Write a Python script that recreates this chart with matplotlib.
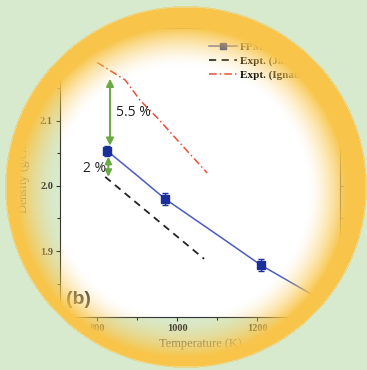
import numpy as np
import matplotlib
matplotlib.use("Agg")
import matplotlib.pyplot as plt
from matplotlib.lines import Line2D

# --- data ---
fpmd_T = [825, 970, 1210]
fpmd_rho = [2.054, 1.980, 1.878]
fpmd_err = [0.008, 0.009, 0.009]

fit_T = [825, 900, 970, 1100, 1210, 1340, 1420]
fit_rho = [2.054, 2.016, 1.980, 1.925, 1.878, 1.832, 1.806]

janz_T = [820, 1067]
janz_rho = [2.014, 1.888]

ign_T = [800, 870, 907, 950, 1007, 1075]
ign_rho = [2.190, 2.163, 2.132, 2.105, 2.066, 2.020]

legend_labels = ["FPMD", "Expt. (Janz)", "Expt. (Ignatiev)"]

W, H = 367, 370
BG = "#d8eacd"
YELLOW = np.array([248, 197, 74]) / 255.0

fig = plt.figure(figsize=(W / 100, H / 100), dpi=100)
fig.patch.set_facecolor(BG)

# --- the chart ---
ax = fig.add_axes([60 / W, 1 - 317 / H, 280 / W, 289 / H])
ax.set_facecolor("white")
ax.set_xlim(707, 1407)
ax.set_ylim(1.7985, 2.243)

ax.plot(fit_T, fit_rho, color="#4a5cc4", lw=1.1, zorder=3)
ax.errorbar(fpmd_T, fpmd_rho, yerr=fpmd_err, fmt="s", color="#1a2f9c",
            ms=6, capsize=2.5, elinewidth=1, zorder=4)
ax.plot(janz_T, janz_rho, color="#222222", lw=1.3, ls=(0, (4, 3)), zorder=3)
ax.plot(ign_T, ign_rho, color="#e8503a", lw=1.1, ls=(0, (5, 2, 1, 2)), zorder=3)

# green double arrows
green = "#6aaa45"
ax.annotate("", xy=(832, 2.165), xytext=(832, 2.062),
            arrowprops=dict(arrowstyle="<|-|>", color=green, lw=1.4,
                            mutation_scale=11, shrinkA=0, shrinkB=0))
ax.annotate("", xy=(828, 2.045), xytext=(828, 2.014),
            arrowprops=dict(arrowstyle="<|-|>", color=green, lw=1.4,
                            mutation_scale=10, shrinkA=0, shrinkB=0))
ax.text(847, 2.113, "5.5 %", fontsize=10, family="Open Sans",
        color="#222222", va="center", ha="left")
ax.text(765, 2.027, "2 %", fontsize=10, family="Open Sans",
        color="#222222", va="center", ha="left")
ax.text(722, 1.825, "(b)", fontsize=14, family="Liberation Sans",
        fontweight="bold", color="#4a4a4a", va="center")

ax.set_xticks([800, 1000, 1200])
ax.set_xticks([900, 1100, 1300], minor=True)
ax.set_yticks([1.9, 2.0, 2.1, 2.2])
ax.set_yticks([1.85, 1.95, 2.05, 2.15], minor=True)
ax.set_yticklabels(["1.9", "2.0", "2.1", "2.2"])
for lab in ax.get_xticklabels() + ax.get_yticklabels():
    lab.set_family("Liberation Serif")
    lab.set_fontweight("bold")
    lab.set_fontsize(7.5)
    lab.set_color("#333333")
ax.tick_params(which="both", direction="out", length=3, width=0.8,
               color="#333333", pad=2, top=True, right=True)
ax.tick_params(which="minor", length=2)
for s in ax.spines.values():
    s.set_color("#333333")
    s.set_linewidth(0.8)
ax.set_xlabel("Temperature (K)", family="Liberation Serif", fontsize=9,
              color="#555555", labelpad=4)
ax.set_ylabel("Density (g/cm$^3$)", family="Liberation Serif", fontsize=9,
              color="#555555", labelpad=4)

handles = [
    Line2D([], [], color="#4a5cc4", lw=1.1, marker="s", ms=5,
           mfc="#1a2f9c", mec="#1a2f9c"),
    Line2D([], [], color="#222222", lw=1.3, ls=(0, (4, 3))),
    Line2D([], [], color="#e8503a", lw=1.1, ls=(0, (5, 2, 1, 2))),
]
ax.legend(handles, legend_labels, loc="upper left",
          bbox_to_anchor=(203 / W, 1 - 37 / H), bbox_transform=fig.transFigure,
          frameon=False, handlelength=2.6, handletextpad=0.2,
          labelspacing=0.35, borderpad=0,
          prop={"family": "Liberation Serif", "weight": "bold", "size": 8})

# --- circular vignette overlay ---
cx, cy, R = 186, 187, 181
fx, fy = 182, 192
yy, xx = np.mgrid[0:H, 0:W] + 0.5
r = np.hypot(xx - cx, yy - cy)
rf = np.hypot(xx - fx, yy - fy)
a = np.clip((rf - 125) / 40, 0, 1) ** 1.6
img = np.zeros((H, W, 4))
img[..., :3] = YELLOW
img[..., 3] = a
bg = np.array(matplotlib.colors.to_rgb(BG))
out = r > R
img[out, :3] = bg
img[out, 3] = 1.0
edge = (r > R - 1.5) & (r <= R)
img[edge, :3] = 0.5 * YELLOW + 0.5 * bg
img[edge, 3] = 1.0

ov = fig.add_axes([0, 0, 1, 1], zorder=10)
ov.imshow(img, extent=(0, W, H, 0), interpolation="bilinear")
ov.set_xlim(0, W)
ov.set_ylim(H, 0)
ov.axis("off")

fig.savefig("out.png", dpi=100, facecolor=BG)
